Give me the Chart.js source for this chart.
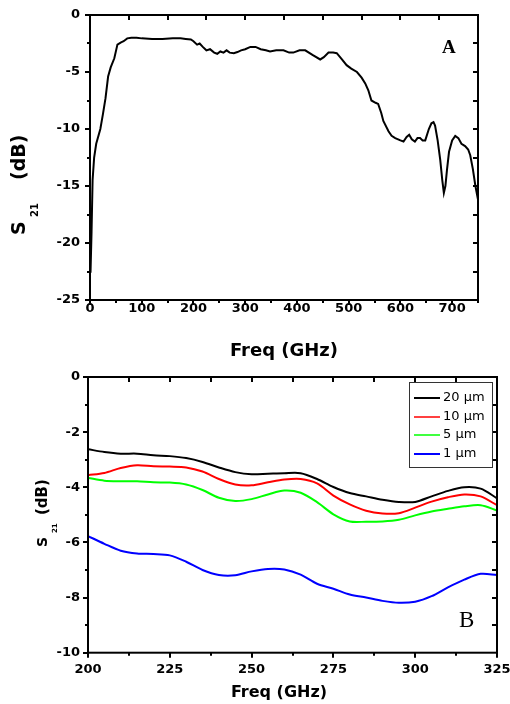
<!DOCTYPE html>
<html>
<head>
<meta charset="utf-8">
<title>S21 vs Freq</title>
<script src="https://cdn.jsdelivr.net/npm/chart.js@4.4.1/dist/chart.umd.min.js"></script>
<style>
  body { margin: 0; background: #fff; }
  .panel { position: absolute; left: 0; width: 510px; }
</style>
</head>
<body>
<div class="panel" style="top:0;height:362px"><canvas id="chartA" width="510" height="362"></canvas></div>
<div class="panel" style="top:362px;height:342px"><canvas id="chartB" width="510" height="342"></canvas></div>

<script>
// ---- panel A : S21 over the full band ----
const freqA = [1, 3, 5, 8, 12, 20, 25, 30, 35, 40, 47, 53, 60, 65, 72, 80, 90, 100, 120, 140,
  160, 175, 185, 195, 200, 207, 212, 218, 225, 232, 240, 246, 252, 258, 264, 270, 278, 285, 292, 300,
  310, 320, 330, 340, 348, 360, 374, 385, 393, 405, 416, 430, 445, 452, 461, 470, 477, 487, 496, 505,
  516, 525, 532, 538, 544, 552, 557, 563, 567, 577, 583, 590, 600, 606, 612, 617, 622, 628, 633, 638,
  643, 648, 655, 660, 664, 667, 672, 677, 681, 684, 687, 690, 694, 700, 706, 712, 718, 725, 731, 735,
  740, 745, 750];
const s21A = [-22.6, -19, -14.5, -12.5, -11.3, -10, -8.7, -7.3, -5.4, -4.6, -3.8, -2.6, -2.4, -2.3, -2.05, -2.0, -2.0, -2.05, -2.1, -2.1,
  -2.05, -2.05, -2.1, -2.15, -2.3, -2.6, -2.5, -2.8, -3.1, -3.0, -3.3, -3.4, -3.2, -3.3, -3.1, -3.3, -3.35, -3.25, -3.1, -3.0,
  -2.8, -2.8, -3.0, -3.1, -3.2, -3.1, -3.1, -3.3, -3.3, -3.1, -3.1, -3.5, -3.9, -3.7, -3.3, -3.3, -3.35, -3.9, -4.4, -4.7,
  -5.0, -5.5, -6.0, -6.6, -7.5, -7.7, -7.8, -8.6, -9.3, -10.2, -10.6, -10.8, -11.0, -11.1, -10.7, -10.5, -10.9, -11.1, -10.8, -10.8,
  -11.0, -11.0, -10.0, -9.5, -9.4, -9.7, -11.0, -12.7, -14.5, -15.6, -15.0, -13.6, -12.0, -11.0, -10.6, -10.8, -11.3, -11.5, -11.8, -12.3,
  -13.5, -15.0, -16.2];

// ---- panel B : S21 for several widths ----
const freqB = [200, 205, 210, 215, 220, 225, 230, 235, 240, 245, 250, 255, 260,
  265, 270, 275, 280, 285, 290, 295, 300, 305, 310, 315, 320, 325];
const s21_20um = [-2.62, -2.72, -2.78, -2.78, -2.84, -2.87, -2.94, -3.08, -3.28, -3.45, -3.53, -3.51, -3.49,
  -3.49, -3.70, -3.99, -4.21, -4.33, -4.45, -4.53, -4.53, -4.33, -4.13, -4.00, -4.05, -4.40];
const s21_10um = [-3.56, -3.48, -3.30, -3.20, -3.24, -3.25, -3.28, -3.43, -3.70, -3.90, -3.93, -3.82, -3.72,
  -3.70, -3.86, -4.30, -4.62, -4.85, -4.95, -4.94, -4.74, -4.52, -4.36, -4.26, -4.33, -4.65];
const s21_5um = [-3.66, -3.76, -3.78, -3.78, -3.82, -3.83, -3.90, -4.10, -4.38, -4.50, -4.43, -4.26, -4.12,
  -4.20, -4.54, -4.98, -5.24, -5.25, -5.24, -5.18, -5.02, -4.88, -4.78, -4.69, -4.65, -4.84];
const s21_1um = [-5.77, -6.05, -6.30, -6.40, -6.42, -6.47, -6.70, -7.00, -7.18, -7.19, -7.05, -6.96, -6.98,
  -7.17, -7.50, -7.68, -7.89, -8.00, -8.12, -8.19, -8.15, -7.95, -7.63, -7.35, -7.14, -7.18];
const seriesB = [s21_20um, s21_10um, s21_5um, s21_1um];
const labelsB = ['20 µm', '10 µm', '5 µm', '1 µm'];
const colorsB = ['#000000', '#ff0000', '#00ff00', '#0000ff'];
const legendWidthsB = [2, 1.5, 1.5, 2];

const tickFont = { family: 'DejaVu Sans', weight: 'bold', size: 13 };

// frame with mirrored ticks, titles, panel letter and legend
// (settings kept in a closure, not in chart options)
function framePlugin(o) {
  return {
    id: 'frame',
    afterDraw(chart) {
      const ctx = chart.ctx, a = chart.chartArea;
      const sx = chart.scales.x, sy = chart.scales.y;
      const near = (v, s) => Math.abs(v / s - Math.round(v / s)) < 1e-6;
      ctx.save();
      ctx.strokeStyle = '#000';
      ctx.lineWidth = 2;
      ctx.strokeRect(a.left, a.top, a.right - a.left, a.bottom - a.top);
      ctx.beginPath();
      for (let v = sx.min; v <= sx.max + 1e-6; v += o.xMinor) {
        const p = Math.round(sx.getPixelForValue(v));
        const len = near(v, o.xMajor) ? 5 : 3;
        ctx.moveTo(p, a.bottom); ctx.lineTo(p, a.bottom + len);
      }
      for (let v = sx.min + o.xTop; v < sx.max - 1e-6; v += o.xTop) {
        const p = Math.round(sx.getPixelForValue(v));
        ctx.moveTo(p, a.top); ctx.lineTo(p, a.top + 5);
      }
      for (let v = sy.min; v <= sy.max + 1e-6; v += o.yMinor) {
        const p = Math.round(sy.getPixelForValue(v));
        const len = near(v, o.yMajor) ? 5 : 3;
        ctx.moveTo(a.left, p); ctx.lineTo(a.left - len, p);
      }
      for (let v = sy.min + o.yRight; v < sy.max - 1e-6; v += o.yRight) {
        const p = Math.round(sy.getPixelForValue(v));
        ctx.moveTo(a.right, p); ctx.lineTo(a.right - 5, p);
      }
      ctx.stroke();

      ctx.fillStyle = '#000';
      ctx.font = 'bold ' + o.xTitle.size + 'px "DejaVu Sans"';
      ctx.textAlign = 'center';
      ctx.textBaseline = 'alphabetic';
      ctx.fillText(o.xTitle.text, o.xTitle.x, o.xTitle.y);
      ctx.textAlign = 'left';
      o.yTitle.forEach(part => {
        ctx.save();
        ctx.translate(part.x, part.y);
        ctx.rotate(-Math.PI / 2);
        ctx.font = 'bold ' + part.size + 'px "DejaVu Sans"';
        ctx.fillText(part.text, 0, 0);
        ctx.restore();
      });
      ctx.font = o.tag.font;
      ctx.fillText(o.tag.text, o.tag.x, o.tag.y);

      if (o.legend) {
        const L = o.legend;
        ctx.lineWidth = 1;
        ctx.strokeStyle = '#333';
        ctx.strokeRect(L.x + 0.5, L.y + 0.5, L.w, L.h);
        ctx.font = '13px "DejaVu Sans"';
        ctx.textBaseline = 'middle';
        labelsB.forEach((lab, i) => {
          const yy = Math.round(L.firstY + i * L.gap);
          ctx.strokeStyle = colorsB[i];
          ctx.lineWidth = legendWidthsB[i];
          ctx.beginPath();
          ctx.moveTo(L.x + 5, yy); ctx.lineTo(L.x + 31, yy);
          ctx.stroke();
          ctx.fillStyle = '#000';
          ctx.fillText(lab, L.x + 34, yy);
        });
      }
      ctx.restore();
    }
  };
}

function axisTicks(step, pad) {
  return { stepSize: step, includeBounds: false, padding: pad, color: '#000', font: tickFont, maxRotation: 0, autoSkip: false };
}
const noGrid = { display: false, drawTicks: false, tickLength: 0 };

new Chart(document.getElementById('chartA'), {
  type: 'line',
  data: {
    datasets: [{
      label: 'S21',
      data: freqA.map((f, i) => ({ x: f, y: s21A[i] })),
      borderColor: '#000', borderWidth: 2, pointRadius: 0, tension: 0
    }]
  },
  options: {
    responsive: false, animation: false, devicePixelRatio: 1,
    layout: { padding: { top: 15, right: 32, left: 0, bottom: 0 } },
    plugins: { legend: { display: false }, tooltip: { enabled: false } },
    scales: {
      x: {
        type: 'linear', min: 0, max: 750,
        grid: noGrid, border: { display: false },
        ticks: axisTicks(100, 1),
        afterFit(s) { s.height = 62; s.paddingLeft = 0; s.paddingRight = 0; }
      },
      y: {
        min: -25, max: 0,
        grid: noGrid, border: { display: false },
        ticks: axisTicks(5, 10),
        afterFit(s) { s.width = 90; s.paddingTop = 0; s.paddingBottom = 0; }
      }
    }
  },
  plugins: [framePlugin({
    xMajor: 100, xMinor: 50, xTop: 75, yMajor: 5, yMinor: 2.5, yRight: 2.5,
    xTitle: { text: 'Freq (GHz)', x: 284, y: 356, size: 18 },
    yTitle: [
      { text: 'S', x: 25, y: 235, size: 19 },
      { text: '21', x: 38, y: 217, size: 10 },
      { text: '(dB)', x: 25, y: 180, size: 19 }
    ],
    tag: { text: 'A', x: 442, y: 53, font: 'bold 19px "Liberation Serif"' }
  })]
});

new Chart(document.getElementById('chartB'), {
  type: 'line',
  data: {
    datasets: seriesB.map((vals, k) => ({
      label: labelsB[k],
      data: freqB.map((f, i) => ({ x: f, y: vals[i] })),
      borderColor: colorsB[k], borderWidth: 2, pointRadius: 0, tension: 0.3
    }))
  },
  options: {
    responsive: false, animation: false, devicePixelRatio: 1,
    layout: { padding: { top: 15, right: 13, left: 0, bottom: 0 } },
    plugins: { legend: { display: false }, tooltip: { enabled: false } },
    scales: {
      x: {
        type: 'linear', min: 200, max: 325,
        grid: noGrid, border: { display: false },
        ticks: axisTicks(25, 9),
        afterFit(s) { s.height = 51.3; s.paddingLeft = 0; s.paddingRight = 0; }
      },
      y: {
        min: -10, max: 0,
        grid: noGrid, border: { display: false },
        ticks: axisTicks(2, 8),
        afterFit(s) { s.width = 88; s.paddingTop = 0; s.paddingBottom = 0; }
      }
    }
  },
  plugins: [framePlugin({
    xMajor: 25, xMinor: 12.5, xTop: 12.5, yMajor: 2, yMinor: 1, yRight: 1,
    xTitle: { text: 'Freq (GHz)', x: 279, y: 335, size: 16 },
    yTitle: [
      { text: 'S', x: 47, y: 185, size: 14 },
      { text: '21', x: 57, y: 171, size: 7 },
      { text: '(dB)', x: 47, y: 153, size: 15 }
    ],
    tag: { text: 'B', x: 459, y: 265, font: '23px "Liberation Serif"' },
    legend: { x: 409, y: 20, w: 83, h: 85, firstY: 36, gap: 18.6 }
  })]
});
</script>
</body>
</html>
